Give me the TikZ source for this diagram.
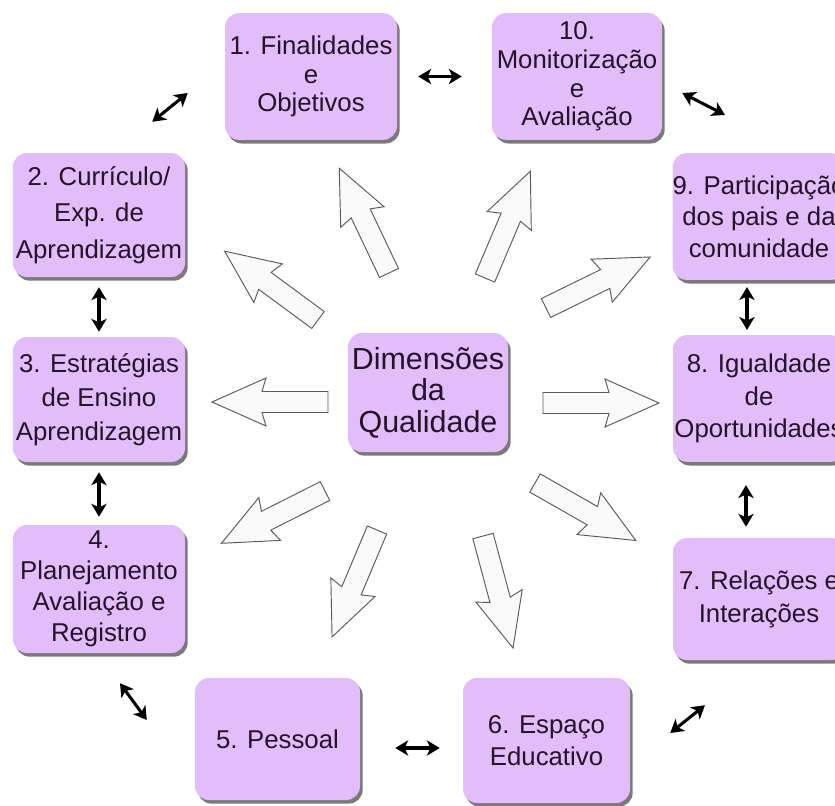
\documentclass[tikz,border=0pt]{standalone}
\usepackage{fontspec}
\setmainfont{Liberation Sans}
\usetikzlibrary{shadows,calc,arrows.meta}
\definecolor{lilas}{RGB}{227,188,250}
\definecolor{tinta}{RGB}{35,20,40}
\tikzset{
    dim/.style={rounded corners=0.42cm, fill=lilas, text=tinta, align=center, inner sep=0pt,
        minimum width=5.16cm, minimum height=3.8cm, font=\fontsize{22}{27}\selectfont,
        drop shadow={shadow xshift=0.08cm, shadow yshift=-0.11cm, fill=black!80, opacity=0.65}},
    seta/.style={draw=black!65, fill=black!2, line width=0.8pt, line join=miter},
    dupla/.style={<->, line width=2.6pt}
}
\begin{document}
\begin{tikzpicture}[x={(0.03cm,0)}, y={(0,-0.03cm)}, >={Stealth[length=11pt,width=13pt,inset=3pt]}]
    \useasboundingbox (0,0) rectangle (835,805);
    \clip (0,0) rectangle (835,805);

    \node[dim, minimum width=4.8cm, minimum height=3.57cm, font=\fontsize{26}{27}\selectfont] (c) at (428,392.5) {Dimensões\\da\\Qualidade};

    \node[dim, font=\fontsize{22}{24.5}\selectfont] (n1) at (311,76.5) {1. Finalidades\\e\\Objetivos};
    \node[dim, minimum height=3.72cm, font=\fontsize{22}{31}\selectfont] (n2) at (99,215) {2. Currículo/\\Exp. de\\Aprendizagem};
    \node[dim, minimum height=3.75cm, font=\fontsize{22}{29}\selectfont] (n3) at (99,399.5) {3. Estratégias\\de Ensino\\Aprendizagem};
    \node[dim, minimum height=3.84cm, font=\fontsize{22}{26.5}\selectfont] (n4) at (99,589) {4.\\Planejamento\\Avaliação e\\Registro};
    \node[dim, minimum width=4.95cm, minimum height=3.66cm] (n5) at (277.5,739) {5. Pessoal};
    \node[dim, minimum width=5.01cm, minimum height=3.75cm] (n6) at (546.5,740.5) {6. Espaço\\Educativo};
    \node[dim, minimum height=3.66cm, font=\fontsize{22}{28}\selectfont] (n7) at (759,599) {7. Relações e\\Interações};
    \node[dim, font=\fontsize{22}{28}\selectfont] (n8) at (759,398.5) {8. Igualdade\\de\\Oportunidades};
    \node[dim] (n9) at (759,216.5) {9. Participação\\dos pais e da\\comunidade};
    \node[dim, minimum width=5.1cm, font=\fontsize{22}{24.5}\selectfont] (n10) at (577,76.5) {10.\\Monitorização\\e\\Avaliação};

    \foreach \tx/\ty/\a in {389/273/115.4, 485/278/67, 318/320/143.6, 546/308/26.1, 328/402/180,
                            543/403/0, 325/491/206.8, 377/530/247.2, 483/536/-75, 535/483/-29.7}
        \draw[seta, shift={(\tx,\ty)}, rotate=\a] (0,-10.5) -- (66,-10.5) -- (62,-24) -- (116,0) -- (62,24) -- (66,10.5) -- (0,10.5) -- cycle;

    \draw[dupla, shorten <=0.63cm, shorten >=0.9cm] (n1) -- (n10);
    \draw[dupla] ($(n10.east)+(20,16.5)$) -- ($(n9.north)+(-34,-38)$);
    \draw[dupla] ($(n2.north east)+(-33,-31)$) -- ($(n1.west)+(-37,16.5)$);
    \draw[dupla, shorten <=0.3cm, shorten >=0.15cm] (n2) -- (n3);
    \draw[dupla, shorten <=0.3cm, shorten >=0.24cm] (n3) -- (n4);
    \draw[dupla, shorten <=0.21cm, shorten >=0.15cm] ([xshift=-0.36cm]n9.south) -- ([xshift=-0.36cm]n8.north);
    \draw[dupla, shorten <=0.69cm, shorten >=0.33cm] ([xshift=-0.39cm]n8.south) -- ([xshift=-0.39cm]n7.north);
    \draw[dupla] ($(n4.south)+(21,30)$) -- ($(n5.west)+(-48,-19)$);
    \draw[dupla] ($(n5.east)+(35,9)$) -- ($(n6.west)+(-23,7.5)$);
    \draw[dupla] ($(n6.east)+(40,-7.5)$) -- ($(n7.south)+(-54,45)$);
\end{tikzpicture}
\end{document}
